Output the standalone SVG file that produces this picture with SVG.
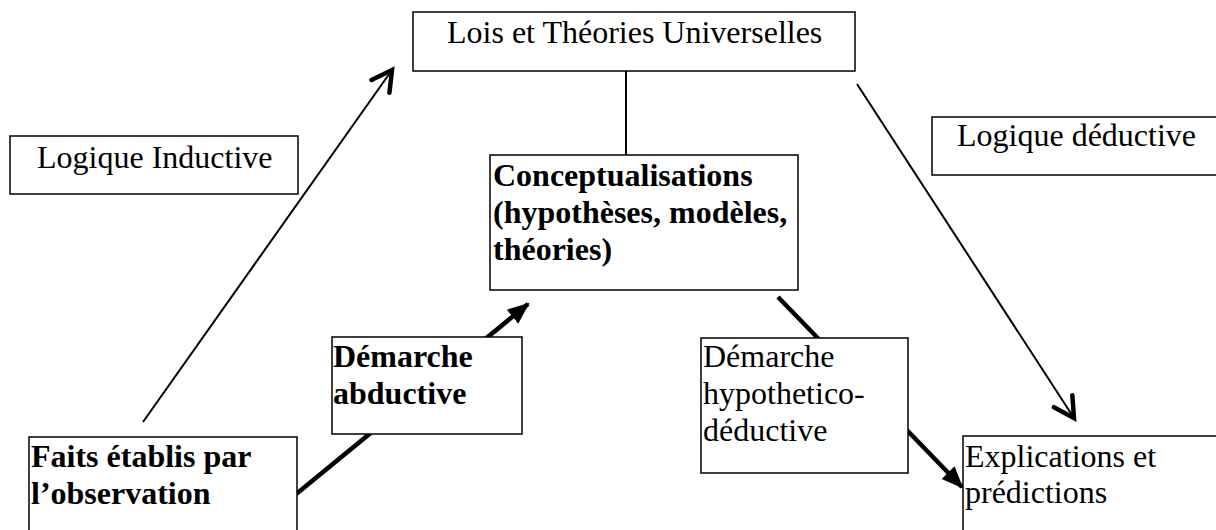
<svg xmlns="http://www.w3.org/2000/svg" width="1216" height="530" viewBox="0 0 1216 530">
<style>
.box{fill:#fff;stroke:#000;stroke-width:1.5}
.t{font-family:"Liberation Serif","Times New Roman",serif;font-size:32px;fill:#000}
.b{font-weight:bold}
.thin{stroke:#000;stroke-width:2;fill:none}
.thick{stroke:#000;stroke-width:4.5;fill:none}
</style>
<defs>
<marker id="open" markerUnits="userSpaceOnUse" markerWidth="32" markerHeight="30" refX="22" refY="12" orient="auto" viewBox="-3 -3 32 30">
<path d="M2,1 L22,12 L2,23" fill="none" stroke="#000" stroke-width="4.5" stroke-linejoin="miter" stroke-linecap="round"/>
</marker>
<marker id="fill" markerUnits="userSpaceOnUse" markerWidth="24" markerHeight="20" refX="20" refY="9" orient="auto" viewBox="0 0 24 18">
<path d="M0,0 L22,9 L0,18 Z" fill="#000"/>
</marker>
</defs>
<g id="connectors">
<line class="thin" x1="626" y1="64" x2="626" y2="156"/>
<line class="thin" x1="143" y1="422" x2="392" y2="70" marker-end="url(#open)"/>
<line class="thin" x1="857" y1="84" x2="1074" y2="418" marker-end="url(#open)"/>
<line class="thick" x1="295" y1="495" x2="528" y2="304" marker-end="url(#fill)"/>
<line class="thick" x1="778" y1="297" x2="962" y2="487" marker-end="url(#fill)"/>
</g>
<g id="lois">
<rect class="box" x="413" y="12" width="442" height="59"/>
<text class="t" x="447" y="43">Lois et Théories Universelles</text>
</g>
<g id="logique-inductive">
<rect class="box" x="10" y="136" width="288" height="58"/>
<text class="t" x="37" y="168">Logique Inductive</text>
</g>
<g id="logique-deductive">
<rect class="box" x="932" y="117" width="300" height="58"/>
<text class="t" x="957" y="146">Logique déductive</text>
</g>
<g id="conceptualisations">
<rect class="box" x="490" y="155" width="308" height="135"/>
<text class="t b" x="493" y="186">Conceptualisations</text>
<text class="t b" x="493" y="223">(hypothèses, modèles,</text>
<text class="t b" x="493" y="260">théories)</text>
</g>
<g id="abductive">
<rect class="box" x="332" y="337" width="190" height="97"/>
<text class="t b" x="333" y="367">Démarche</text>
<text class="t b" x="333" y="404">abductive</text>
</g>
<g id="hypothetico">
<rect class="box" x="701" y="338" width="207" height="135"/>
<text class="t" x="703" y="367">Démarche</text>
<text class="t" x="703" y="404">hypothetico-</text>
<text class="t" x="703" y="441">déductive</text>
</g>
<g id="faits">
<rect class="box" x="29" y="437" width="268" height="110"/>
<text class="t b" x="31" y="467">Faits établis par</text>
<text class="t b" x="31" y="504">l’observation</text>
</g>
<g id="explications">
<rect class="box" x="963" y="436" width="270" height="110"/>
<text class="t" x="965" y="467">Explications et</text>
<text class="t" x="965" y="503">prédictions</text>
</g>
</svg>
